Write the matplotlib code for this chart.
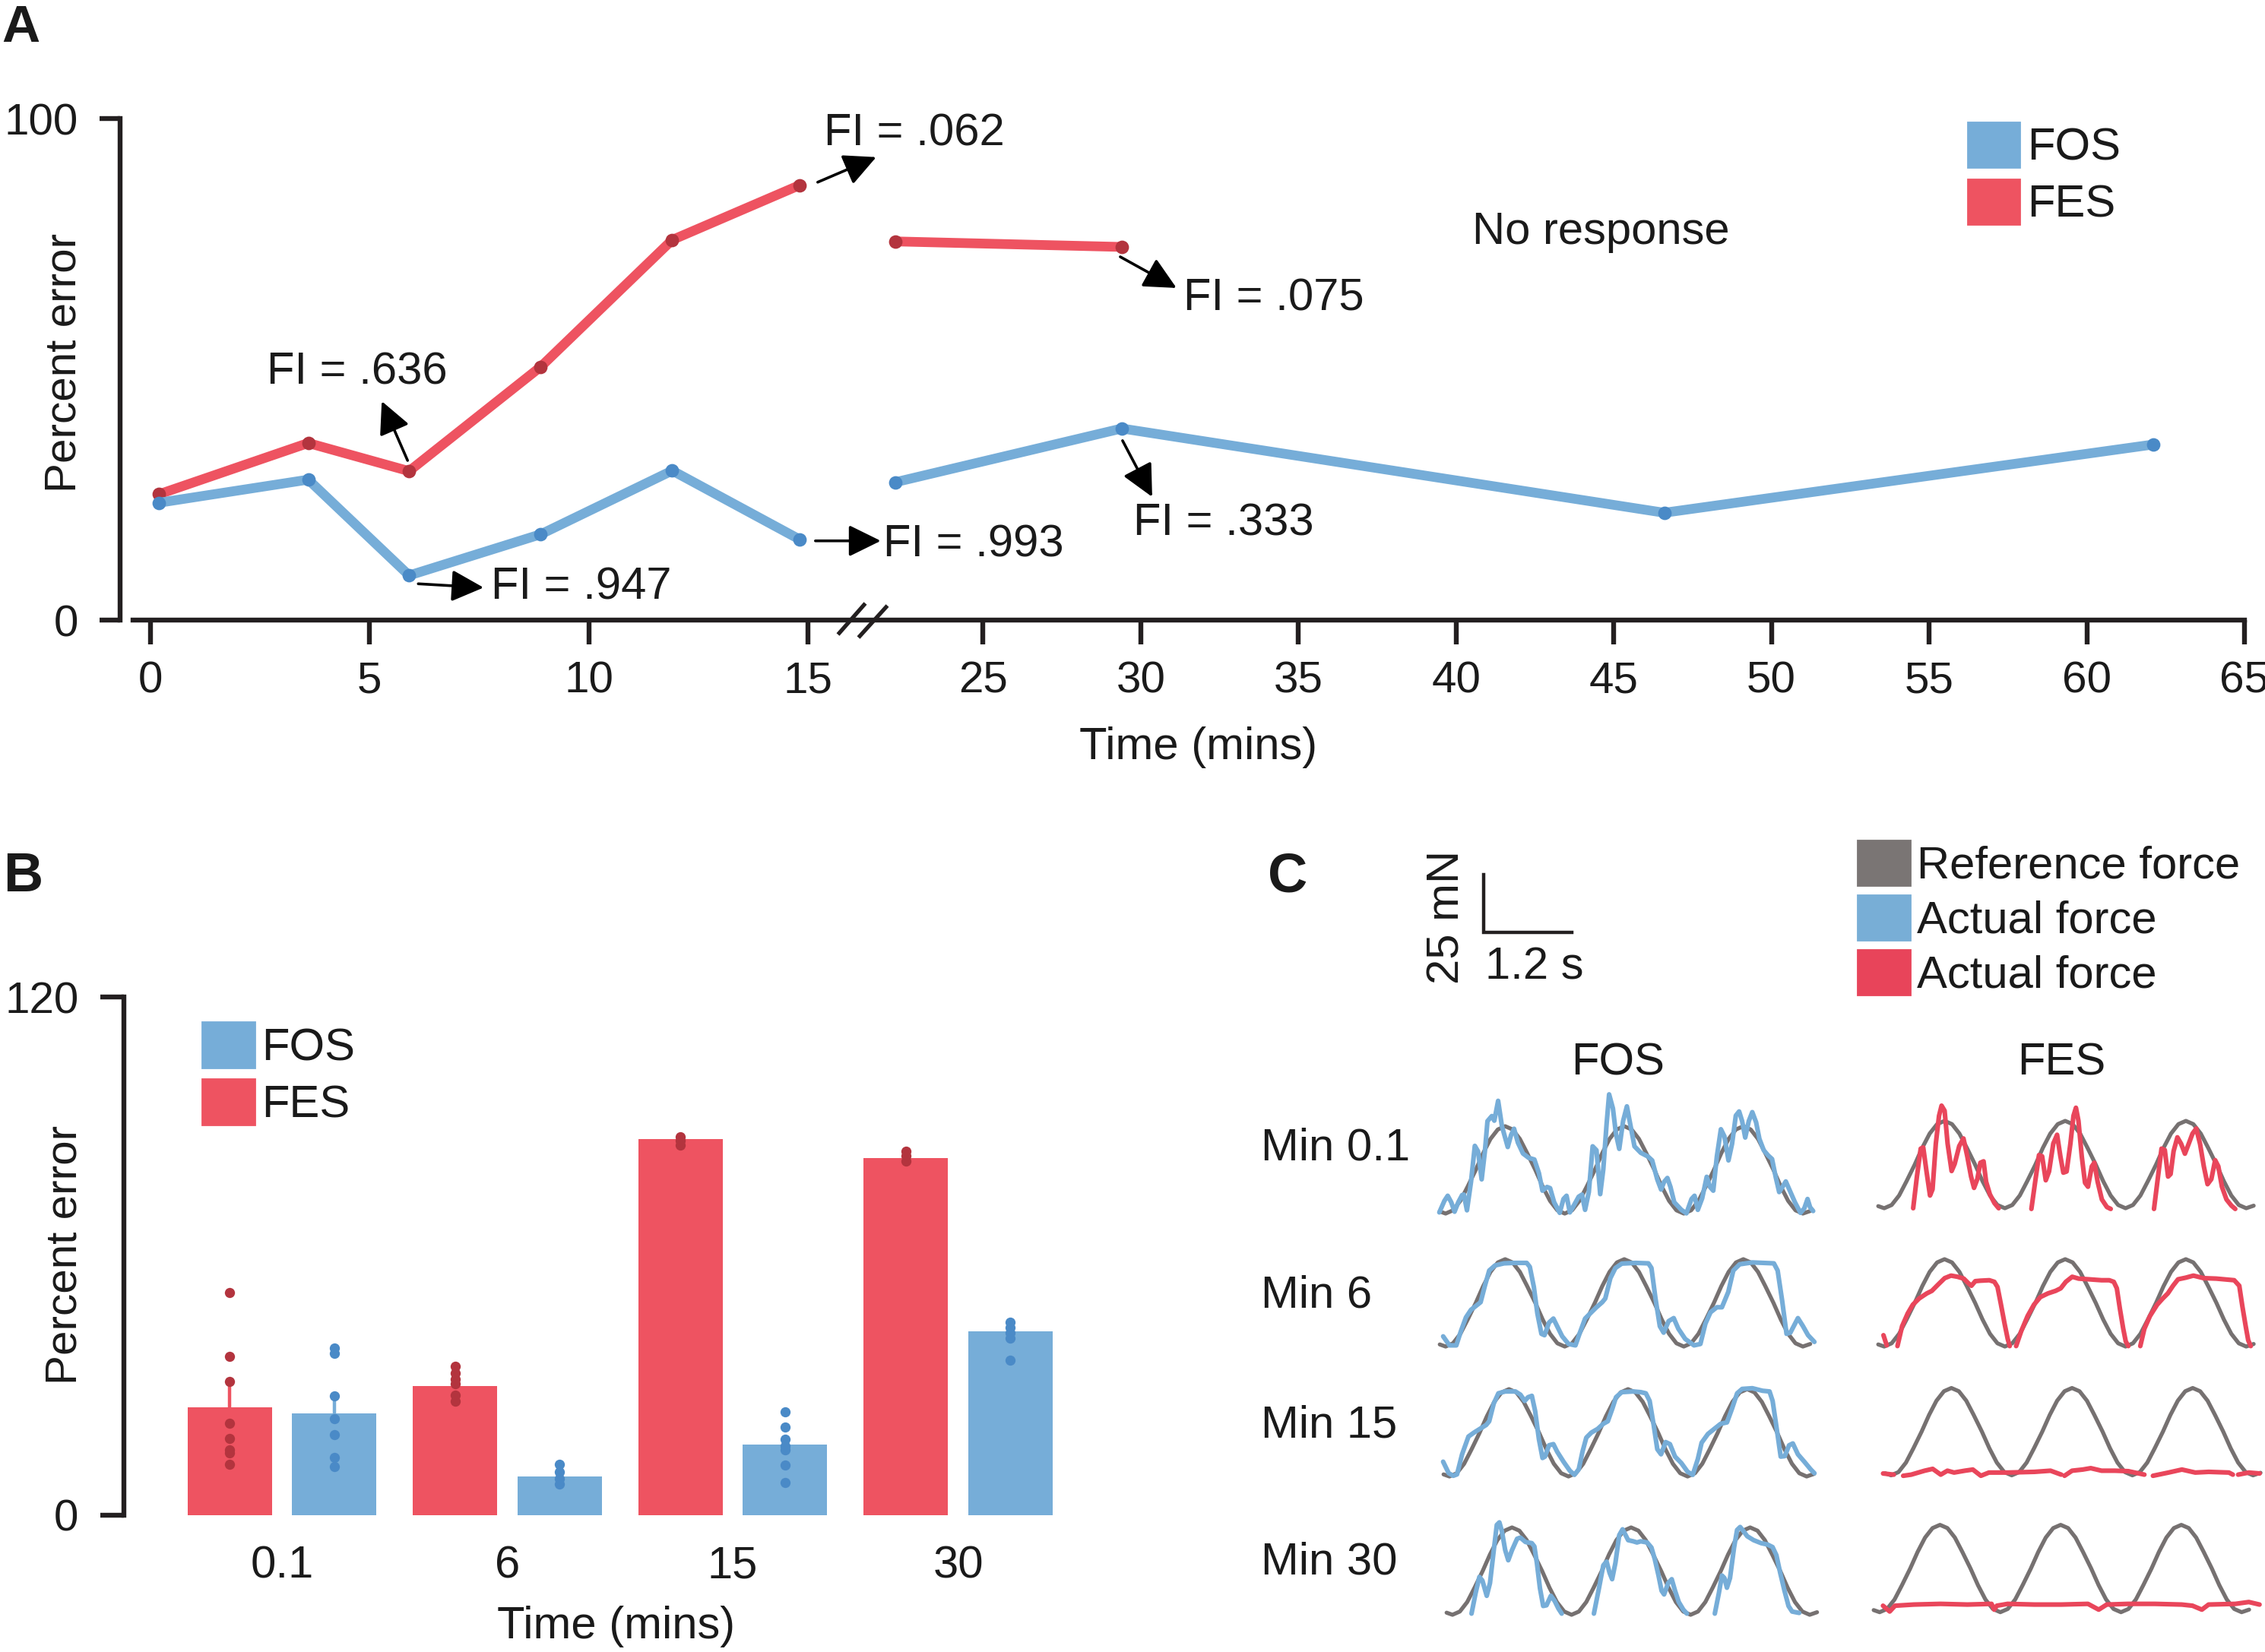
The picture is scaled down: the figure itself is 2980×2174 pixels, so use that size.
import numpy as np
import matplotlib
matplotlib.use('Agg')
import matplotlib.pyplot as plt
import matplotlib.transforms as mtransforms
from matplotlib.patches import Patch
from matplotlib.path import Path

plt.rcParams['font.family'] = ['Liberation Sans', 'DejaVu Sans']
plt.rcParams['font.size'] = 21
plt.rcParams['text.color'] = '#1a1a1a'
plt.rcParams['xtick.color'] = '#1a1a1a'
plt.rcParams['ytick.color'] = '#1a1a1a'

# ---------------- data ----------------
# panel A: percent error over time (mins)
fes_t1 = [0.2, 3.6, 5.9, 8.9, 11.9, 14.8]
fes_e1 = [25.1, 35.3, 29.7, 50.5, 75.8, 86.7]
fes_t2 = [20, 29.4]
fes_e2 = [75.5, 74.4]
fos_t1 = [0.2, 3.6, 5.9, 8.9, 11.9, 14.8]
fos_e1 = [23.4, 28.0, 8.9, 17.1, 29.8, 16.1]
fos_t2 = [20, 29.4, 46.6, 62.1]
fos_e2 = [27.5, 38.2, 21.4, 35.0]
a_xticks = [0, 5, 10, 15, 25, 30, 35, 40, 45, 50, 55, 60, 65]

# panel B: bars + single animals
b_cats = ['0.1', '6', '15', '30']
fes_bar = [25.0, 29.8, 87.0, 82.7]
fos_bar = [23.5, 8.9, 16.3, 42.5]
fes_err = [5.5, 1.0, 0.5, 0.5]
fos_err = [3.6, 0.6, 1.8, 1.0]
fes_dots = [[51.6, 36.8, 31.0, 21.3, 17.7, 15.1, 14.4, 11.8],
            [34.4, 32.8, 31.4, 30.4, 27.7, 26.3],
            [87.7, 86.8, 85.6],
            [84.2, 83.2, 82.0]]
fos_dots = [[38.6, 37.4, 27.6, 22.3, 18.7, 13.3, 11.2],
            [11.7, 10.0, 8.4, 7.2],
            [23.9, 20.3, 17.5, 16.0, 15.1, 11.5, 7.5],
            [44.6, 43.4, 42.2, 41.0, 35.9]]

# panel C: force traces, time (s) vs force (mN)
ref_t = [-0.08, 0.0, 0.10, 0.20, 0.30, 0.41, 0.51, 0.61, 0.71, 0.81, 0.91, 1.01, 1.11,
         1.22, 1.32, 1.42, 1.52, 1.62, 1.72, 1.82, 1.92, 2.03, 2.13, 2.23, 2.33, 2.43,
         2.53, 2.63, 2.73, 2.84, 2.94, 3.04, 3.14, 3.24, 3.34, 3.44, 3.54, 3.65, 3.75,
         3.85, 3.95, 4.05, 4.15, 4.25, 4.35, 4.46, 4.56, 4.66, 4.76, 4.86, 4.96]
ref_f = [0.9, 0.0, 1.4, 5.5, 11.7, 18.9, 26.1, 32.3, 36.4, 37.8, 36.4, 32.3, 26.1,
         18.9, 11.7, 5.5, 1.4, 0.0, 1.4, 5.5, 11.7, 18.9, 26.1, 32.3, 36.4, 37.8,
         36.4, 32.3, 26.1, 18.9, 11.7, 5.5, 1.4, 0.0, 1.4, 5.5, 11.7, 18.9, 26.1,
         32.3, 36.4, 37.8, 36.4, 32.3, 26.1, 18.9, 11.7, 5.5, 1.4, 0.0, 1.1]

NA = (np.nan, np.nan)

fos_min01 = [(-0.086, 0.5), (-0.017, 5.5), (0.028, 7.7), (0.076, 4.9), (0.121, 0.8),
             (0.172, 4.9), (0.224, 8.0), (0.248, 8.2), (0.290, 1.4), (0.345, 13.7),
             (0.397, 29.3), (0.441, 26.9), (0.490, 14.8), (0.534, 26.9), (0.569, 40.0),
             (0.628, 42.2), (0.662, 40.2), (0.714, 48.8), (0.766, 37.8), (0.845, 28.8),
             (0.890, 34.0), (0.931, 36.7), (0.983, 30.7), (1.052, 26.0), (1.131, 24.1),
             (1.207, 23.4), (1.269, 17.5), (1.317, 9.9), (1.379, 11.5), (1.421, 11.0),
             (1.476, 4.9), (1.552, 0.3), (1.603, 6.3), (1.645, 7.7), (1.690, 0.5),
             (1.741, 3.3), (1.810, 7.3), (1.855, 8.2), (1.897, 1.6), (1.948, 9.3),
             (2.000, 29.1), (2.052, 27.4), (2.103, 8.4), (2.145, 19.2), (2.190, 38.9),
             (2.224, 51.6), (2.276, 45.5), (2.317, 34.5), (2.362, 28.0), (2.414, 40.0),
             (2.466, 46.4), (2.517, 37.8), (2.569, 29.1), (2.655, 26.3), (2.752, 24.7),
             (2.810, 23.0), (2.879, 14.8), (2.931, 10.4), (2.972, 13.7), (3.017, 15.4),
             (3.059, 11.5), (3.110, 4.9), (3.207, 1.6), (3.276, 0.1), (3.345, 6.3),
             (3.386, 7.7), (3.431, 1.6), (3.490, 6.6), (3.552, 15.9), (3.597, 11.5),
             (3.641, 9.9), (3.690, 24.7), (3.745, 36.5), (3.793, 33.4), (3.848, 23.0),
             (3.897, 30.2), (3.948, 42.4), (3.993, 44.2), (4.034, 40.0), (4.076, 32.9),
             (4.124, 40.0), (4.172, 43.9), (4.224, 39.5), (4.269, 32.3), (4.328, 27.4),
             (4.386, 25.2), (4.441, 23.6), (4.490, 15.9), (4.538, 9.3), (4.586, 11.7),
             (4.628, 13.9), (4.683, 9.9), (4.752, 4.9), (4.828, 0.3), (4.879, 2.2),
             (4.924, 6.3), (4.959, 2.7), (5.000, 1.1)]

fos_min6 = [(-0.034, 4.4), (0.052, 0.5), (0.145, 0.5), (0.207, 6.6), (0.276, 12.6),
            (0.345, 15.9), (0.421, 17.8), (0.476, 19.2), (0.534, 26.3), (0.593, 32.9),
            (0.672, 35.1), (0.793, 36.0), (0.931, 36.2), (1.103, 36.2), (1.145, 34.5),
            (1.200, 25.8), (1.248, 14.3), (1.303, 5.5), (1.345, 4.9), (1.407, 10.4),
            (1.466, 12.1), (1.517, 8.8), (1.586, 4.4), (1.672, 1.1), (1.766, 0.5),
            (1.821, 5.5), (1.897, 12.1), (1.966, 14.3), (2.052, 17.0), (2.131, 19.2),
            (2.172, 20.8), (2.241, 29.6), (2.310, 34.0), (2.397, 35.9), (2.586, 36.2),
            (2.759, 36.0), (2.800, 34.0), (2.855, 20.8), (2.914, 8.8), (2.966, 6.0),
            (3.034, 11.0), (3.103, 12.3), (3.166, 7.7), (3.259, 3.3), (3.379, 0.5),
            (3.466, 1.1), (3.534, 9.9), (3.603, 14.8), (3.690, 17.0), (3.759, 17.0),
            (3.845, 23.6), (3.914, 32.9), (4.000, 35.6), (4.172, 36.4), (4.466, 36.0),
            (4.517, 32.9), (4.579, 19.7), (4.638, 5.5), (4.690, 6.0), (4.793, 12.3),
            (4.862, 8.8), (4.931, 4.9), (5.017, 2.0)]

fos_min15 = [(-0.086, 6.4), (-0.010, 1.4), (0.052, 0.3), (0.103, 0.9), (0.172, 9.6),
             (0.259, 17.3), (0.334, 19.0), (0.414, 20.6), (0.500, 22.3), (0.541, 23.9),
             (0.603, 31.6), (0.666, 36.0), (0.759, 36.8), (0.897, 36.8), (0.966, 35.4),
             (1.024, 32.7), (1.069, 34.3), (1.121, 34.9), (1.166, 28.3), (1.217, 16.2),
             (1.266, 8.0), (1.300, 8.6), (1.355, 13.5), (1.414, 14.0), (1.466, 10.7),
             (1.552, 6.4), (1.638, 2.5), (1.700, 0.7), (1.759, 3.1), (1.810, 10.7),
             (1.862, 16.8), (1.931, 19.0), (2.017, 20.6), (2.093, 22.8), (2.155, 23.9),
             (2.217, 29.4), (2.266, 34.3), (2.345, 36.5), (2.500, 36.8), (2.603, 36.5),
             (2.672, 36.0), (2.724, 32.7), (2.776, 22.8), (2.828, 11.8), (2.879, 9.6),
             (2.941, 14.9), (3.000, 14.0), (3.069, 8.6), (3.155, 5.8), (3.241, 2.0),
             (3.310, 0.7), (3.379, 7.5), (3.431, 14.6), (3.517, 18.4), (3.603, 20.6),
             (3.690, 22.8), (3.776, 23.4), (3.845, 29.4), (3.914, 36.0), (3.983, 37.9),
             (4.121, 38.2), (4.259, 37.1), (4.355, 36.8), (4.397, 32.7), (4.448, 21.7),
             (4.507, 8.6), (4.562, 8.8), (4.621, 13.5), (4.672, 14.3), (4.741, 9.6),
             (4.828, 6.4), (4.914, 3.1), (4.966, 1.4)]

fos_min30 = [(0.259, 0.5), (0.314, 9.3), (0.366, 16.4), (0.407, 14.8), (0.466, 8.2),
             (0.510, 13.7), (0.562, 28.0), (0.603, 38.9), (0.638, 40.0), (0.672, 36.2),
             (0.717, 28.0), (0.759, 23.6), (0.810, 28.0), (0.879, 32.9), (0.924, 33.4),
             (0.993, 31.5), (1.079, 31.0), (1.114, 29.6), (1.148, 22.5), (1.190, 11.5),
             (1.234, 3.8), (1.279, 4.1), (1.338, 8.2), (1.390, 6.0), (1.441, 2.7),
             (1.486, 0.5), NA,
             (1.924, 0.5), (1.993, 11.5), (2.052, 21.4), (2.097, 23.0), (2.138, 18.1),
             (2.172, 15.4), (2.217, 22.5), (2.269, 34.5), (2.314, 37.0), (2.355, 34.5),
             (2.390, 32.3), (2.459, 31.8), (2.510, 31.3), (2.562, 31.8), (2.648, 31.3),
             (2.707, 29.1), (2.752, 24.1), (2.803, 17.0), (2.845, 10.4), (2.879, 8.8),
             (2.934, 13.7), (2.983, 15.4), (3.028, 10.4), (3.079, 5.5), (3.141, 2.2),
             (3.190, 0.5), NA,
             (3.569, 0.5), (3.624, 9.3), (3.666, 17.0), (3.700, 15.9), (3.734, 11.7),
             (3.776, 15.9), (3.831, 29.1), (3.872, 36.7), (3.914, 38.0), (3.959, 36.2),
             (4.010, 34.0), (4.097, 32.3), (4.200, 31.0), (4.286, 30.4), (4.355, 29.3),
             (4.407, 25.8), (4.459, 18.1), (4.517, 10.4), (4.572, 3.8), (4.621, 1.4),
             (4.717, 0.8)]

fes_min01 = [(0.389, 0.0), (0.439, 13.7), (0.490, 25.8), (0.524, 26.3), (0.568, 15.9),
             (0.615, 5.5), (0.649, 8.2), (0.693, 28.0), (0.736, 40.0), (0.770, 44.4),
             (0.811, 42.2), (0.851, 28.0), (0.905, 16.1), (0.946, 19.2), (1.007, 26.9),
             (1.064, 30.2), (1.115, 22.5), (1.166, 13.7), (1.206, 8.8), (1.250, 12.6),
             (1.291, 19.7), (1.334, 20.3), (1.368, 11.5), (1.419, 6.0), (1.480, 2.2),
             (1.537, 0.0), NA,
             (1.976, -0.3), (2.027, 11.5), (2.078, 23.0), (2.120, 22.5), (2.169, 12.1),
             (2.213, 15.9), (2.270, 28.0), (2.321, 31.8), (2.365, 22.5), (2.405, 15.4),
             (2.449, 15.9), (2.500, 28.0), (2.541, 40.0), (2.574, 43.5), (2.608, 37.8),
             (2.652, 22.5), (2.696, 11.0), (2.736, 9.3), (2.787, 18.1), (2.821, 19.7),
             (2.865, 11.5), (2.922, 3.8), (2.990, 0.5), (3.041, -0.3), NA,
             (3.622, -0.3), (3.676, 13.7), (3.723, 25.8), (3.767, 25.2), (3.811, 13.7),
             (3.845, 14.8), (3.885, 24.7), (3.936, 30.7), (3.986, 27.9), (4.037, 23.6),
             (4.088, 27.9), (4.139, 32.3), (4.189, 34.5), (4.240, 27.9), (4.291, 18.1),
             (4.341, 10.4), (4.392, 12.6), (4.443, 20.8), (4.486, 18.1), (4.534, 9.3),
             (4.595, 3.8), (4.662, 1.1), (4.713, -0.3)]

fes_min6 = [(-0.010, 4.9), (0.034, 0.5), NA,
            (0.178, 0.2), (0.240, 8.8), (0.315, 14.3), (0.384, 18.1), (0.469, 20.8),
            (0.572, 23.0), (0.640, 24.1), (0.726, 26.9), (0.812, 29.6), (0.897, 30.7),
            (0.983, 30.2), (1.068, 29.4), (1.130, 27.4), (1.171, 26.3), (1.223, 28.3),
            (1.291, 28.5), (1.411, 28.7), (1.479, 28.0), (1.521, 25.8), (1.565, 18.6),
            (1.616, 9.9), (1.658, 3.3), (1.685, 0.2), NA,
            (1.771, 0.2), (1.839, 6.6), (1.925, 13.2), (2.010, 18.1), (2.096, 21.4),
            (2.199, 23.0), (2.301, 24.1), (2.370, 25.2), (2.438, 28.0), (2.524, 30.2),
            (2.610, 29.4), (2.747, 29.1), (2.918, 28.7), (3.021, 28.7), (3.082, 28.0),
            (3.123, 25.2), (3.164, 16.4), (3.209, 7.7), (3.243, 2.2), (3.277, 0.2), NA,
            (3.438, 0.2), (3.493, 7.7), (3.568, 13.2), (3.664, 18.1), (3.740, 20.8),
            (3.808, 23.0), (3.877, 26.3), (3.945, 29.1), (4.048, 29.8), (4.151, 30.7),
            (4.288, 29.6), (4.459, 29.4), (4.699, 28.7), (4.767, 26.3), (4.808, 17.5),
            (4.853, 8.8), (4.887, 2.7), (4.921, 0.2)]

fes_min15 = [(-0.107, 0.8), (0.037, 0.3), NA,
             (0.163, -0.2), (0.271, 0.3), (0.451, 2.0), (0.559, 2.8), (0.667, 0.3),
             (0.757, 2.0), (0.846, 1.2), (0.990, 2.0), (1.098, 2.5), (1.206, -0.2),
             (1.314, 1.2), (1.566, 1.2), (1.926, 1.5), (2.141, 2.0), (2.285, 0.3), NA,
             (2.329, -0.2), (2.430, 2.0), (2.573, 2.5), (2.681, 3.1), (2.826, 2.0),
             (3.005, 2.0), (3.185, 1.8), (3.401, 0.3), NA,
             (3.516, -0.2), (3.725, 1.2), (3.905, 2.5), (4.084, 1.2), (4.265, 1.5),
             (4.536, 1.2), (4.589, 0.3), NA,
             (4.660, 0.3), (4.804, 1.2), (4.948, 0.8)]

fes_min30 = [(0.045, 2.8), (0.135, 0.3), (0.207, 2.8), (0.458, 3.3), (0.818, 3.6),
             (1.178, 3.3), (1.502, 3.6), (1.538, 1.1), (1.573, 2.8), (1.718, 3.6),
             (2.078, 3.3), (2.437, 3.3), (2.797, 3.6), (2.941, 1.1), (3.049, 3.3),
             (3.336, 3.6), (3.696, 3.6), (4.056, 3.3), (4.200, 2.8), (4.326, 1.1),
             (4.416, 3.3), (4.776, 3.6), (4.956, 4.4), (5.100, 3.3)]

fos_traces = [fos_min01, fos_min6, fos_min15, fos_min30]
fes_traces = [fes_min01, fes_min6, fes_min15, fes_min30]
row_labels = ['Min 0.1', 'Min 6', 'Min 15', 'Min 30']

# ---------------- style ----------------
RED = '#EE5361'
BLUE = '#76ADD8'
RED_DOT = '#B3343E'
BLUE_DOT = '#4A8AC7'
GRAY = '#767171'
C_RED = '#E9465B'
INK = '#231F20'

W, H = 2980, 2174
DPI = 200
fig = plt.figure(figsize=(W / DPI, H / DPI), dpi=DPI)


def rect(x0, y0, x1, y1):
    # pixel box (top-left origin) -> figure fraction
    return [x0 / W, 1 - y1 / H, (x1 - x0) / W, (y1 - y0) / H]


def px(v):
    # pixels -> points
    return v * 72.0 / DPI


# ---------------- panel A ----------------
def fwd(x):
    x = np.asarray(x, dtype=float)
    return np.where(x <= 15, x * 57.7,
                    np.where(x <= 25, 865.5 + (x - 15) * 23.0, 1095.5 + (x - 25) * 41.49))


def inv(u):
    u = np.asarray(u, dtype=float)
    return np.where(u <= 865.5, u / 57.7,
                    np.where(u <= 1095.5, 15 + (u - 865.5) / 23.0, 25 + (u - 1095.5) / 41.49))


axA = fig.add_axes(rect(158, 156, 2953, 816))
axA.set_xscale('function', functions=(fwd, inv))
axA.set_xlim(-0.69, 65)
axA.set_ylim(0, 100)
axA.patch.set_visible(False)

lk = dict(lw=4.6, marker='o', ms=5.4, solid_capstyle='round', clip_on=False)
axA.plot(fes_t1, fes_e1, color=RED, mfc=RED_DOT, mec=RED_DOT, **lk)
axA.plot(fes_t2, fes_e2, color=RED, mfc=RED_DOT, mec=RED_DOT, **lk)
axA.plot(fos_t1, fos_e1, color=BLUE, mfc=BLUE_DOT, mec=BLUE_DOT, **lk)
axA.plot(fos_t2, fos_e2, color=BLUE, mfc=BLUE_DOT, mec=BLUE_DOT, **lk)

for s in ['top', 'right']:
    axA.spines[s].set_visible(False)
for s in ['left', 'bottom']:
    axA.spines[s].set_linewidth(2.3)
    axA.spines[s].set_color(INK)
axA.spines['left'].set_bounds(0, 100)
axA.spines['bottom'].set_bounds(-0.4, 65)
axA.set_xticks(a_xticks, labels=[str(t) for t in a_xticks])
axA.set_yticks([0, 100], labels=['0', '100'])
axA.xaxis.set_minor_locator(matplotlib.ticker.NullLocator())
axA.tick_params(axis='x', direction='out', length=px(32), width=2.3, labelsize=21, pad=px(22), color=INK)
axA.tick_params(axis='y', direction='out', length=px(27), width=2.3, labelsize=21, pad=px(28), color=INK)

# axis break marks
brk = Path([(-32, -18.5), (4, 22.5), (-5, -22.5), (33, 19.5)],
           [Path.MOVETO, Path.LINETO, Path.MOVETO, Path.LINETO])
axA.plot([18.07], [0], marker=brk, ms=px(66), mfc='none', mec=INK, mew=1.9, clip_on=False, zorder=5)


def off(dx, dy):
    return axA.transData + mtransforms.ScaledTranslation(px(dx) / 72, px(dy) / 72, fig.dpi_scale_trans)


# (label, x, y, tail offset, head offset, text offset) offsets in pixels, y up
fi_notes = [('FI = .636', fes_t1[2], fes_e1[2], (-2, 14), (-36, 92), (-187, 130)),
            ('FI = .947', fos_t1[2], fos_e1[2], (12, -11), (98, -16), (108, -16)),
            ('FI = .993', fos_t1[5], fos_e1[5], (21, -2), (107, -2), (110, -7)),
            ('FI = .062', fes_t1[5], fes_e1[5], (24, 4), (101, 37), (32, 68)),
            ('FI = .075', fes_t2[1], fes_e2[1], (-2, -13), (72, -54), (81, -68)),
            ('FI = .333', fos_t2[1], fos_e2[1], (1, -16), (40, -90), (15, -125))]
for lab, x, y, tail, head, txt in fi_notes:
    axA.annotate('', xy=(x, y), xycoords=off(*head), xytext=(x, y), textcoords=off(*tail),
                 arrowprops=dict(arrowstyle='-|>,head_length=0.65,head_width=0.32', lw=1.3,
                                 color='black', shrinkA=0, shrinkB=0, mutation_scale=20),
                 annotation_clip=False)
    axA.text(x, y, lab, transform=off(*txt), ha='left', va='center', fontsize=21.5)

axA.text(0.697, 0.773, 'No response', transform=axA.transAxes, ha='center', va='center', fontsize=21.5)

legA = axA.legend([Patch(color=BLUE), Patch(color=RED)], ['FOS', 'FES'], loc='upper left',
                  bbox_to_anchor=(0.8698, 0.9924), frameon=False, fontsize=21.5, borderpad=0,
                  borderaxespad=0, handlelength=1.13, handleheight=1.15, labelspacing=0.22,
                  handletextpad=0.17)

fig.text(85 / W, 1 - 477 / H, 'Percent error', rotation=90, ha='center', va='center', fontsize=21)
fig.text(1577 / W, 1 - 983 / H, 'Time (mins)', ha='center', va='center', fontsize=21.5)
fig.text(2 / W, 1 - 55 / H, 'A', ha='left', va='baseline', fontsize=25, fontweight='bold')

# ---------------- panel B ----------------
axB = fig.add_axes(rect(162.6, 1312, 1394, 1993.8))
axB.set_xlim(-0.703, 3.45)
axB.set_ylim(0, 120)
axB.patch.set_visible(False)
xs = np.arange(len(b_cats))
bw = 0.374
sh = 0.232
axB.bar(xs - sh, fes_bar, width=bw, color=RED, zorder=2)
axB.bar(xs + sh, fos_bar, width=bw, color=BLUE, zorder=2)
axB.errorbar(xs - sh, fes_bar, yerr=[np.zeros(4), fes_err], fmt='none', ecolor=RED, elinewidth=1.6,
             capsize=0, zorder=3)
axB.errorbar(xs + sh, fos_bar, yerr=[np.zeros(4), fos_err], fmt='none', ecolor=BLUE, elinewidth=1.6,
             capsize=0, zorder=3)
for i in range(len(b_cats)):
    axB.plot([xs[i] - sh] * len(fes_dots[i]), fes_dots[i], 'o', ms=4.8, color=RED_DOT, mec='none', zorder=4)
    axB.plot([xs[i] + sh] * len(fos_dots[i]), fos_dots[i], 'o', ms=4.8, color=BLUE_DOT, mec='none', zorder=4)

for s in ['top', 'right', 'bottom']:
    axB.spines[s].set_visible(False)
axB.spines['left'].set_linewidth(2.3)
axB.spines['left'].set_color(INK)
axB.spines['left'].set_bounds(0, 120)
axB.set_yticks([0, 120], labels=['0', '120'])
axB.set_xticks(xs, labels=b_cats)
axB.tick_params(axis='y', direction='out', length=px(31), width=2.3, labelsize=21, pad=px(28), color=INK)
axB.tick_params(axis='x', length=0, labelsize=21.5, pad=px(40))
axB.legend([Patch(color=BLUE), Patch(color=RED)], ['FOS', 'FES'], loc='upper left',
           bbox_to_anchor=(0.084, 0.9516), frameon=False, fontsize=21.5, borderpad=0,
           borderaxespad=0, handlelength=1.15, handleheight=1.17, labelspacing=0.22,
           handletextpad=0.16)

fig.text(86 / W, 1 - 1651 / H, 'Percent error', rotation=90, ha='center', va='center', fontsize=21)
fig.text(811 / W, 1 - 2141 / H, 'Time (mins)', ha='center', va='center', fontsize=21.5)
fig.text(4 / W, 1 - 1173 / H, 'B', ha='left', va='baseline', fontsize=26, fontweight='bold')

# ---------------- panel C ----------------
PX_MN = 3.04
col_pxs = [96.7, 98.0]
col_x0 = [[1902, 1902, 1907, 1911], [2479, 2479, 2488, 2473]]
col_y0 = [[1597, 1772, 1943, 2125], [1590, 1772, 1941.5, 2121.6]]
col_color = [BLUE, C_RED]
col_traces = [fos_traces, fes_traces]

for c in range(2):
    pxs = col_pxs[c]
    for r in range(4):
        X0 = col_x0[c][r]
        Y0 = col_y0[c][r]
        ax = fig.add_axes(rect(X0 - 0.25 * pxs, Y0 - 60 * PX_MN, X0 + 5.25 * pxs, Y0 + 12 * PX_MN))
        ax.set_xlim(-0.25, 5.25)
        ax.set_ylim(-12, 60)
        ax.axis('off')
        ax.plot(ref_t, ref_f, color=GRAY, lw=1.9, solid_joinstyle='round', solid_capstyle='round', clip_on=False)
        tr = np.array(col_traces[c][r], dtype=float)
        ax.plot(tr[:, 0], tr[:, 1], color=col_color[c], lw=2.2, solid_joinstyle='round',
                solid_capstyle='round', clip_on=False)

for r, lab in enumerate(row_labels):
    fig.text(1659 / W, 1 - [1511, 1705, 1876, 2056][r] / H, lab, ha='left', va='center', fontsize=21.5)
fig.text(2129 / W, 1 - 1399 / H, 'FOS', ha='center', va='center', fontsize=21.5)
fig.text(2712 / W, 1 - 1399 / H, 'FES', ha='center', va='center', fontsize=21.5)

# scale bar
axS = fig.add_axes(rect(1952, 1227 - 25 * PX_MN, 1952 + 1.2 * 96.7, 1227))
axS.set_xlim(0, 1.2)
axS.set_ylim(0, 25)
axS.axis('off')
axS.plot([0, 0, 1.2], [25, 0, 0], color=INK, lw=1.6, clip_on=False, solid_joinstyle='miter')
fig.text(1904 / W, 1 - 1207 / H, '25 mN', rotation=90, ha='center', va='center', fontsize=21.5)
fig.text(1954 / W, 1 - 1273 / H, '1.2 s', ha='left', va='center', fontsize=21.5)

fig.legend([Patch(color='#7A7574'), Patch(color='#78AED6'), Patch(color='#E8445A')],
           ['Reference force', 'Actual force', 'Actual force'], loc='upper left',
           bbox_to_anchor=(2444 / W, 1 - 1106 / H), frameon=False, fontsize=21.5, borderpad=0,
           borderaxespad=0, handlelength=1.15, handleheight=1.15, labelspacing=0.17,
           handletextpad=0.16)
fig.text(1694 / W, 1 - 1173 / H, 'C', ha='center', va='baseline', fontsize=26, fontweight='bold')

fig.savefig('out.png', dpi=DPI)
